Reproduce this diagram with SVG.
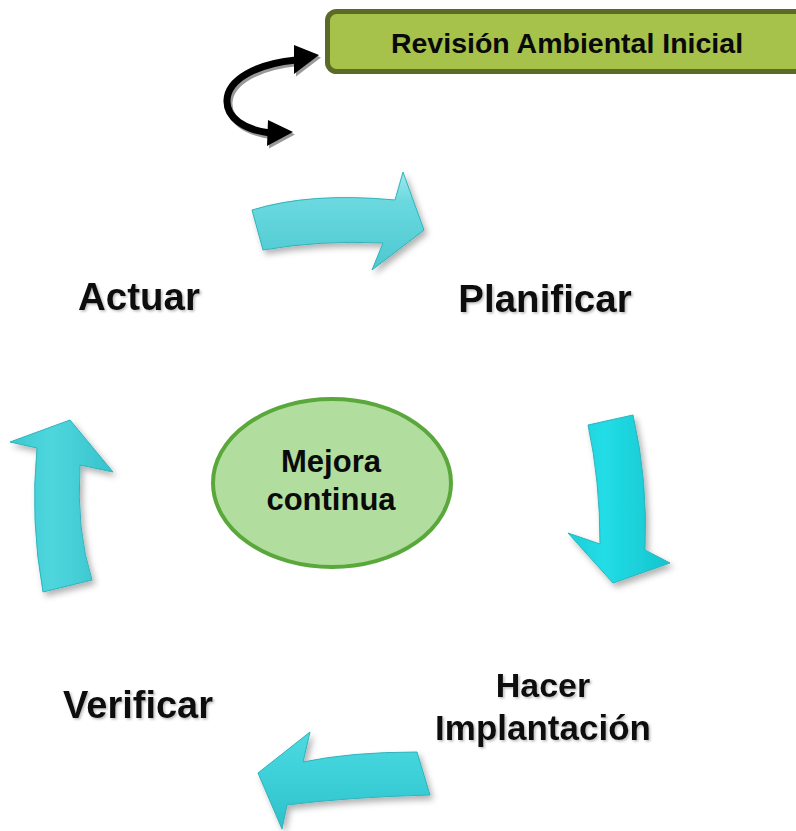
<svg xmlns="http://www.w3.org/2000/svg" width="796" height="831" viewBox="0 0 796 831">
<style>
.lbl{font-family:"Liberation Sans",Arial,sans-serif;font-weight:bold;fill:#0a0a0a;}
.arrow{stroke:#2fb3bb;stroke-width:1;stroke-linejoin:round;filter:url(#sh);}
</style>
<defs>
<filter id="sh" x="-20%" y="-20%" width="150%" height="150%">
<feDropShadow dx="3" dy="4" stdDeviation="3" flood-color="#000" flood-opacity="0.3"/>
</filter>
<filter id="tsh" x="-5%" y="-5%" width="115%" height="130%">
<feDropShadow dx="1.5" dy="1.5" stdDeviation="0.8" flood-color="#777" flood-opacity="0.5"/>
</filter>
<linearGradient id="gv" x1="0" y1="0" x2="0" y2="1">
<stop offset="0" stop-color="#9fe8ec"/>
<stop offset="0.3" stop-color="#6ad9df"/>
<stop offset="1" stop-color="#4cc8d0"/>
</linearGradient>
<linearGradient id="gh" x1="0" y1="0" x2="1" y2="0">
<stop offset="0" stop-color="#1ccfd8"/>
<stop offset="0.35" stop-color="#22dde6"/>
<stop offset="1" stop-color="#14c4cd"/>
</linearGradient>
<linearGradient id="gh2" x1="0" y1="0" x2="1" y2="0">
<stop offset="0" stop-color="#3cc9d2"/>
<stop offset="0.4" stop-color="#4fd6dd"/>
<stop offset="1" stop-color="#37c3cc"/>
</linearGradient>
<linearGradient id="gv2" x1="0" y1="0" x2="0" y2="1">
<stop offset="0" stop-color="#4fd8df"/>
<stop offset="0.4" stop-color="#3ed2da"/>
<stop offset="1" stop-color="#2fc0c9"/>
</linearGradient>
</defs>

<g id="revision">
<rect x="327.5" y="11.5" width="480" height="60" rx="9" fill="#a6c24b" stroke="#5b6b26" stroke-width="5"/>
<text class="lbl" x="567" y="53" font-size="28.5" text-anchor="middle">Revisión Ambiental Inicial</text>
</g>

<g id="connectors">
<g id="double-arrow">
<g transform="translate(2,2.5)" fill="#999" stroke="#999">
<path d="M296,60 C255,64 228,80 227,100 C226,118 245,130 270,133" fill="none" stroke-width="7"/>
<polygon points="294,45 319,55 294,74" stroke="none"/>
<polygon points="268,120 293,132 267,146" stroke="none"/>
</g>
<path d="M296,60 C255,64 228,80 227,100 C226,118 245,130 270,133" fill="none" stroke="#000" stroke-width="7"/>
<polygon points="294,45 319,55 294,74" fill="#000"/>
<polygon points="268,120 293,132 267,146" fill="#000"/>
</g>
<path id="arrow-plan" class="arrow" fill="url(#gv)" d="M252,210 Q310,192 395,200 L403,172 L424,230 L372,270 L383,243 Q320,240 263,250 Z"/>
<path id="arrow-hacer" class="arrow" fill="url(#gh)" d="M588,425 L633,415 Q648,480 645,550 L670,563 L613,583 L568,533 L600,544 Q600,480 588,425 Z"/>
<path id="arrow-verif" class="arrow" fill="url(#gv2)" d="M417,752 Q350,752 303,762 L310,732 L258,773 L282,829 L287,805 Q350,797 430,795 Z"/>
<path id="arrow-actuar" class="arrow" fill="url(#gh2)" d="M10,442 L70,420 L113,472 L80,465 Q76,530 92,580 L43,592 Q30,520 37,448 Z"/>
</g>

<g id="mejora">
<ellipse cx="332" cy="483" rx="119" ry="84" fill="#b1dd9e" stroke="#5aa83c" stroke-width="4"/>
<text class="lbl" x="331" y="472" font-size="31" text-anchor="middle">Mejora</text>
<text class="lbl" x="331" y="510" font-size="31" text-anchor="middle">continua</text>
</g>

<g id="planificar"><text class="lbl" filter="url(#tsh)" x="545" y="312" font-size="38.5" text-anchor="middle">Planificar</text></g>
<g id="actuar"><text class="lbl" filter="url(#tsh)" x="139" y="310" font-size="38.5" text-anchor="middle">Actuar</text></g>
<g id="verificar"><text class="lbl" filter="url(#tsh)" x="138" y="718" font-size="38" text-anchor="middle">Verificar</text></g>
<g id="hacer">
<text class="lbl" filter="url(#tsh)" x="543" y="697" font-size="34" text-anchor="middle">Hacer</text>
<text class="lbl" filter="url(#tsh)" x="543" y="740" font-size="35" text-anchor="middle">Implantación</text>
</g>
</svg>
